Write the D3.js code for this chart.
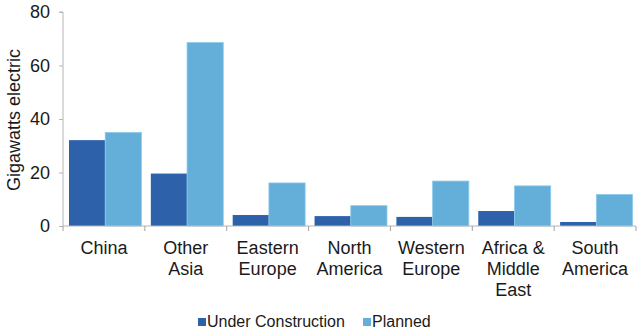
<!DOCTYPE html>
<html>
<head>
<meta charset="utf-8">
<script src="https://cdnjs.cloudflare.com/ajax/libs/d3/7.8.5/d3.min.js"></script>
<style>
html,body{margin:0;padding:0;background:#fff;}
svg{display:block;font-family:"Liberation Sans",Arial,Helvetica,sans-serif;}
</style>
</head>
<body>
<svg id="chart" width="640" height="331"></svg>
<script>
const categories = [["China"],["Other","Asia"],["Eastern","Europe"],["North","America"],["Western","Europe"],["Africa &","Middle","East"],["South","America"]];
const seriesNames = ["Under Construction","Planned"];
const underConstruction = [32.1, 19.6, 4.1, 3.7, 3.4, 5.6, 1.5];
const planned = [35.0, 68.6, 16.1, 7.6, 16.8, 15.0, 11.8];
const yTicks = [0, 20, 40, 60, 80];
const colors = ["#2d62aa", "#63afd9"];

const svg = d3.select("#chart");
const mLeft = 63, mRight = 636, mTop = 12, mBottom = 226;
const catKeys = categories.map(c => c.join(" "));
const seriesValues = [underConstruction, planned];

const x = d3.scaleBand().domain(catKeys).range([mLeft, mRight]).padding(0);
const bw = x.bandwidth();
const xs = d3.scaleBand().domain(seriesNames).range([bw * 0.073, bw * 0.958]).padding(0);
const y = d3.scaleLinear().domain([0, 80]).range([mBottom, mTop]);

// bars
seriesNames.forEach((s, si) => {
  svg.append("g").selectAll("rect").data(catKeys).join("rect")
    .attr("x", (d) => x(d) + xs(s))
    .attr("width", xs.bandwidth())
    .attr("y", (d, i) => y(seriesValues[si][i]))
    .attr("height", (d, i) => y(0) - y(seriesValues[si][i]))
    .attr("fill", colors[si])
    .attr("stroke", si === 1 ? "#8ecbea" : "none")
    .attr("stroke-width", si === 1 ? 0.8 : 0);
});

// y axis
const yAxis = svg.append("g").attr("transform", `translate(${mLeft},0)`)
  .call(d3.axisLeft(y).tickValues(yTicks).tickSize(4).tickPadding(9).tickFormat(d3.format("d")));
yAxis.select(".domain").attr("stroke", "#b5b5b5").attr("d", `M-4,${mTop}H0V${mBottom}`);
yAxis.selectAll(".tick line").attr("stroke", "#b5b5b5");
yAxis.selectAll(".tick text").attr("font-size", 18).attr("fill", "#1a1a1a")
  .attr("font-family", "Liberation Sans, Arial, sans-serif");

// x axis line and boundary ticks
const xAxisG = svg.append("g");
xAxisG.append("line").attr("x1", mLeft).attr("x2", mRight).attr("y1", mBottom).attr("y2", mBottom)
  .attr("stroke", "#b5b5b5");
const bounds = catKeys.map(k => x(k)).concat([x(catKeys[catKeys.length - 1]) + bw]);
xAxisG.selectAll("line.tk").data(bounds).join("line").attr("class", "tk")
  .attr("x1", d => d).attr("x2", d => d).attr("y1", mBottom).attr("y2", mBottom + 5)
  .attr("stroke", "#a0a0a0");

// category labels
const lab = svg.append("g").selectAll("text").data(categories).join("text")
  .attr("text-anchor", "middle").attr("font-size", 18).attr("fill", "#1a1a1a")
  .attr("x", (d, i) => x(catKeys[i]) + bw / 2).attr("y", 254);
lab.each(function(d) {
  const t = d3.select(this);
  d.forEach((line, j) => {
    t.append("tspan").attr("x", t.attr("x")).attr("y", 254 + j * 21).text(line);
  });
});

// y label
svg.append("text").attr("transform", "translate(14,120) rotate(-90)")
  .attr("text-anchor", "middle").attr("dominant-baseline", "central")
  .attr("font-size", 18).attr("fill", "#1a1a1a").text("Gigawatts electric");

// legend
const legendX = [198, 363];
seriesNames.forEach((s, i) => {
  svg.append("rect").attr("x", legendX[i]).attr("y", 318).attr("width", 8).attr("height", 8).attr("fill", colors[i]);
  svg.append("text").attr("x", legendX[i] + 9).attr("y", 327).attr("font-size", 16).attr("fill", "#1a1a1a").text(s);
});
</script>
</body>
</html>
